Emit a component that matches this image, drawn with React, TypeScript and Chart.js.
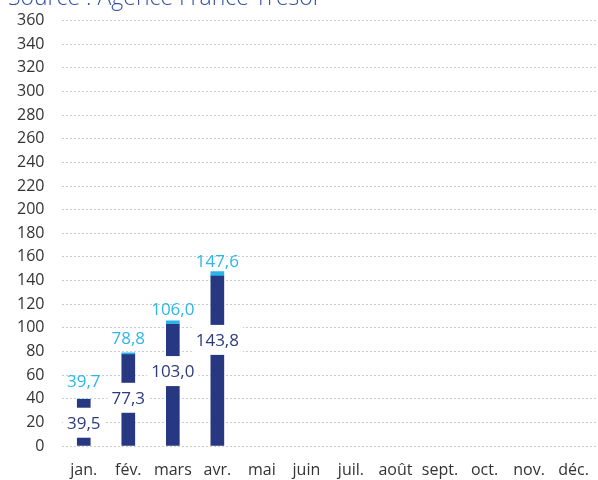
import React, { useEffect, useRef } from "react";
import { Chart, registerables } from "chart.js";

Chart.register(...registerables);

const categories = ["jan.", "fév.", "mars", "avr.", "mai", "juin", "juil.", "août", "sept.", "oct.", "nov.", "déc."];
const darkValues = [39.5, 77.3, 103.0, 143.8, null, null, null, null, null, null, null, null];
const lightValues = [0.2, 1.5, 3.0, 3.8, null, null, null, null, null, null, null, null];
const totalLabels = ["39,7", "78,8", "106,0", "147,6"];
const totalLabelPos = [54.9, 90.9, 115.8, 156.4];
const darkLabels = ["39,5", "77,3", "103,0", "143,8"];
const darkLabelPos = [19.7, 40.8, 63.4, 89.8];
const titleText = "Source : Agence France Trésor";

const DARK = "#283782";
const LIGHT = "#2ab4e8";
const FONT = "'Open Sans', sans-serif";
const SHIFT = 6;

const labelPlugin = {
  id: "labelPlugin",
  afterDatasetsDraw(chart: any) {
    const ctx = chart.ctx;
    const y = chart.scales.y;
    const meta = chart.getDatasetMeta(0);
    ctx.save();
    ctx.font = `17px ${FONT}`;
    ctx.textAlign = "center";
    ctx.textBaseline = "middle";
    darkLabels.forEach((txt, i) => {
      const el = meta.data[i];
      if (!el) return;
      const cx = el.x;
      const cy = y.getPixelForValue(darkLabelPos[i]);
      const w = ctx.measureText(txt).width;
      ctx.fillStyle = "#ffffff";
      ctx.fillRect(cx - w / 2 - 4, cy - 15, w + 8, 30);
      ctx.fillStyle = "#2d3a7c";
      ctx.fillText(txt, cx, cy + 1);
    });
    totalLabels.forEach((txt, i) => {
      const el = meta.data[i];
      if (!el) return;
      const cy = y.getPixelForValue(totalLabelPos[i]);
      ctx.fillStyle = "#2cb6ea";
      ctx.fillText(txt, el.x, cy + 1);
    });
    ctx.restore();
  },
  afterDraw(chart: any) {
    const ctx = chart.ctx;
    ctx.save();
    ctx.font = `300 23px ${FONT}`;
    ctx.fillStyle = "#3453a5";
    ctx.textAlign = "left";
    ctx.textBaseline = "alphabetic";
    ctx.fillText(titleText, 8, 5 + SHIFT);
    ctx.restore();
  },
};

export default function App() {
  const ref = useRef<HTMLCanvasElement>(null);
  useEffect(() => {
    document.body.style.margin = "0";
    const chart = new Chart(ref.current!, {
      type: "bar",
      data: {
        labels: categories,
        datasets: [
          { data: darkValues as any, backgroundColor: DARK, barThickness: 13 },
          { data: lightValues as any, backgroundColor: LIGHT, barThickness: 13 },
        ],
      },
      options: {
        animation: false,
        responsive: false,
        maintainAspectRatio: false,
        layout: { padding: { top: 4, right: 2.5, left: 0, bottom: 0 } },
        plugins: { legend: { display: false }, tooltip: { enabled: false }, title: { display: false } },
        scales: {
          x: {
            stacked: true,
            afterFit: (s: any) => { s.height = 34; },
            grid: { display: false, drawTicks: false },
            border: { display: false },
            ticks: { color: "#333333", font: { family: FONT, size: 16 }, padding: 15, maxRotation: 0, autoSkip: false },
          },
          y: {
            stacked: true,
            min: 0,
            max: 360,
            afterFit: (s: any) => { s.width = 61.5; },
            ticks: { stepSize: 20, color: "#333333", font: { family: FONT, size: 16 }, padding: 17 },
            grid: { color: "#cccccc", drawTicks: false, lineWidth: 1 },
            border: { display: false, dash: [2, 2] },
          },
        },
      },
      plugins: [labelPlugin],
    });
    return () => chart.destroy();
  }, []);
  return (
    <div style={{ width: 598, height: 480, overflow: "hidden" }}>
      <canvas ref={ref} width={604} height={480 + SHIFT} style={{ display: "block", marginTop: -SHIFT }} />
    </div>
  );
}
